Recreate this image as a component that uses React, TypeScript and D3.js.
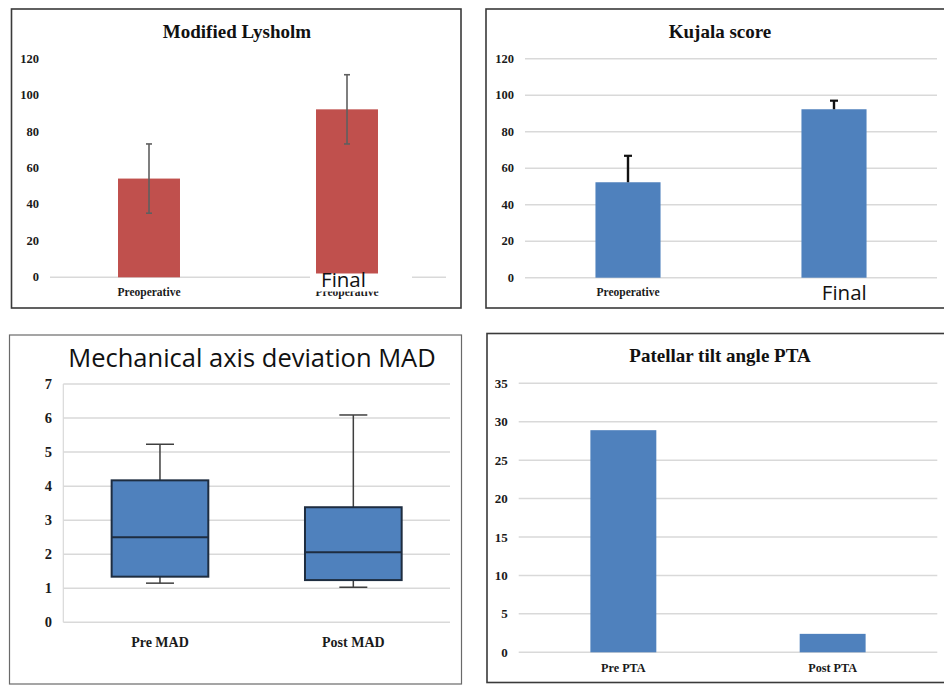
import React from "react";
import * as d3 from "d3";

// ---------- Data ----------
const lysholmTickLabels = ["Preoperative", "Preoperative"];
const lysholmMeans = [54.2, 92.2];
const lysholmSD = [19.0, 19.0];
const lysholmTicks = [0, 20, 40, 60, 80, 100, 120];

const kujalaCategories = ["Preoperative", "Final"];
const kujalaMeans = [52.3, 92.3];
const kujalaSD = [14.5, 4.7];
const kujalaTicks = [0, 20, 40, 60, 80, 100, 120];

const madCategories = ["Pre MAD", "Post MAD"];
const madMin = [1.15, 1.03];
const madQ1 = [1.34, 1.24];
const madMedian = [2.5, 2.06];
const madQ3 = [4.17, 3.38];
const madMax = [5.23, 6.09];
const madTicks = [0, 1, 2, 3, 4, 5, 6, 7];

const ptaCategories = ["Pre PTA", "Post PTA"];
const ptaValues = [28.9, 2.4];
const ptaTicks = [0, 5, 10, 15, 20, 25, 30, 35];

const SERIF = "'Liberation Serif', 'Times New Roman', serif";
const SANS = "'Open Sans', 'Noto Sans', sans-serif";
const RED = "#C0504D";
const BLUE = "#4F81BD";
const GRID = "#D9D9D9";

function band(n: number, x0: number, x1: number, pad: number) {
  return d3
    .scaleBand<number>()
    .domain(d3.range(n))
    .range([x0, x1])
    .paddingInner(pad)
    .paddingOuter(pad / 2);
}

function YLabels({ ticks, y, x, size }: { ticks: number[]; y: d3.ScaleLinear<number, number>; x: number; size: number }) {
  return (
    <g>
      {ticks.map((t) => (
        <text
          key={t}
          x={x}
          y={y(t)}
          textAnchor="end"
          dominantBaseline="central"
          fontFamily={SERIF}
          fontWeight="bold"
          fontSize={size}
          fill="#1a1a1a"
        >
          {t}
        </text>
      ))}
    </g>
  );
}

function Grid({ ticks, y, x0, x1 }: { ticks: number[]; y: d3.ScaleLinear<number, number>; x0: number; x1: number }) {
  return (
    <g>
      {ticks.map((t) => (
        <line key={t} x1={x0} x2={x1} y1={y(t)} y2={y(t)} stroke={GRID} strokeWidth={1.5} />
      ))}
    </g>
  );
}

function Lysholm() {
  const y = d3.scaleLinear().domain([0, 120]).range([277.3, 58.7]);
  const x = band(2, 50, 446, 0.687);
  const bw = x.bandwidth();
  return (
    <g>
      <rect x={11.5} y={9} width={449.5} height={299} fill="white" stroke="#3a3a3a" strokeWidth={1.6} />
      <text x={237} y={37.5} textAnchor="middle" fontFamily={SERIF} fontWeight="bold" fontSize={19} fill="#111">
        Modified Lysholm
      </text>
      <line x1={50} x2={446} y1={y(0)} y2={y(0)} stroke={GRID} strokeWidth={1.5} />
      <YLabels ticks={lysholmTicks} y={y} x={39} size={12.5} />
      {lysholmMeans.map((m, i) => {
        const cx = (x(i) as number) + bw / 2;
        return (
          <g key={i}>
            <rect x={x(i)} y={y(m)} width={bw} height={y(0) - y(m)} fill={RED} />
            <line x1={cx} x2={cx} y1={y(m + lysholmSD[i])} y2={y(m - lysholmSD[i])} stroke="#5f5f5f" strokeWidth={1.6} />
            <line x1={cx - 3} x2={cx + 3} y1={y(m + lysholmSD[i])} y2={y(m + lysholmSD[i])} stroke="#5f5f5f" strokeWidth={1.6} />
            <line x1={cx - 3} x2={cx + 3} y1={y(m - lysholmSD[i])} y2={y(m - lysholmSD[i])} stroke="#5f5f5f" strokeWidth={1.6} />
            <text x={cx} y={295.5} textAnchor="middle" fontFamily={SERIF} fontWeight="bold" fontSize={11.5} fill="#1a1a1a">
              {lysholmTickLabels[i]}
            </text>
          </g>
        );
      })}
      <rect x={310} y={273.5} width={102} height={18} fill="white" />
      <text x={343.5} y={287.3} textAnchor="middle" fontFamily={SANS} fontSize={20.5} fill="#111">
        Final
      </text>
    </g>
  );
}

function Kujala() {
  const y = d3.scaleLinear().domain([0, 120]).range([277.7, 58.7]);
  const x = band(2, 525, 937, 0.684);
  const bw = x.bandwidth();
  return (
    <g>
      <rect x={486} y={9} width={470} height={299} fill="white" stroke="#3a3a3a" strokeWidth={1.6} />
      <text x={720} y={37.5} textAnchor="middle" fontFamily={SERIF} fontWeight="bold" fontSize={19} fill="#111">
        Kujala score
      </text>
      <Grid ticks={kujalaTicks} y={y} x0={525} x1={937} />
      <YLabels ticks={kujalaTicks} y={y} x={514} size={12.5} />
      {kujalaMeans.map((m, i) => {
        const cx = (x(i) as number) + bw / 2;
        const top = y(m + kujalaSD[i]);
        return (
          <g key={i}>
            <rect x={x(i)} y={y(m)} width={bw} height={y(0) - y(m)} fill={BLUE} />
            <line x1={cx} x2={cx} y1={top} y2={y(m)} stroke="#111" strokeWidth={2.4} />
            <line x1={cx - 4} x2={cx + 4} y1={top} y2={top} stroke="#111" strokeWidth={2.2} />
          </g>
        );
      })}
      <text x={(x(0) as number) + bw / 2} y={295.5} textAnchor="middle" fontFamily={SERIF} fontWeight="bold" fontSize={11.5} fill="#1a1a1a">
        {kujalaCategories[0]}
      </text>
      <text x={844.3} y={300} textAnchor="middle" fontFamily={SANS} fontSize={20.5} fill="#111">
        {kujalaCategories[1]}
      </text>
    </g>
  );
}

function MAD() {
  const y = d3.scaleLinear().domain([0, 7]).range([622.3, 384]);
  const x = band(2, 63.3, 450, 0.5);
  const bw = x.bandwidth();
  return (
    <g>
      <rect x={9.5} y={335} width={452} height={349} fill="white" stroke="#6a6a6a" strokeWidth={1.2} />
      <text x={252} y={367} textAnchor="middle" fontFamily={SANS} fontSize={25.5} fill="#111">
        Mechanical axis deviation MAD
      </text>
      <Grid ticks={madTicks} y={y} x0={63.3} x1={450} />
      <line x1={63.3} x2={63.3} y1={y(7)} y2={y(0)} stroke={GRID} strokeWidth={1.2} />
      <YLabels ticks={madTicks} y={y} x={52} size={14.5} />
      {madCategories.map((c, i) => {
        const x0 = x(i) as number;
        const cx = x0 + bw / 2;
        return (
          <g key={c}>
            <line x1={cx} x2={cx} y1={y(madMax[i])} y2={y(madQ3[i])} stroke="#3f3f3f" strokeWidth={1.5} />
            <line x1={cx} x2={cx} y1={y(madQ1[i])} y2={y(madMin[i])} stroke="#3f3f3f" strokeWidth={1.5} />
            <line x1={cx - 14} x2={cx + 14} y1={y(madMax[i])} y2={y(madMax[i])} stroke="#3f3f3f" strokeWidth={1.5} />
            <line x1={cx - 14} x2={cx + 14} y1={y(madMin[i])} y2={y(madMin[i])} stroke="#3f3f3f" strokeWidth={1.5} />
            <rect x={x0} y={y(madQ3[i])} width={bw} height={y(madQ1[i]) - y(madQ3[i])} fill={BLUE} stroke="#1e2d40" strokeWidth={2} />
            <line x1={x0} x2={x0 + bw} y1={y(madMedian[i])} y2={y(madMedian[i])} stroke="#1e2d40" strokeWidth={2} />
            <text x={cx} y={646.7} textAnchor="middle" fontFamily={SERIF} fontWeight="bold" fontSize={14} fill="#1a1a1a">
              {c}
            </text>
          </g>
        );
      })}
    </g>
  );
}

function PTA() {
  const y = d3.scaleLinear().domain([0, 35]).range([652.3, 383.3]);
  const x = band(2, 518.7, 937.3, 0.685);
  const bw = x.bandwidth();
  return (
    <g>
      <rect x={487} y={333.5} width={470} height={349} fill="white" stroke="#3a3a3a" strokeWidth={1.6} />
      <text x={720} y={362.3} textAnchor="middle" fontFamily={SERIF} fontWeight="bold" fontSize={19} fill="#111">
        Patellar tilt angle PTA
      </text>
      <Grid ticks={ptaTicks} y={y} x0={518.7} x1={937.3} />
      <YLabels ticks={ptaTicks} y={y} x={507.7} size={13} />
      {ptaValues.map((v, i) => {
        const cx = (x(i) as number) + bw / 2;
        return (
          <g key={i}>
            <rect x={x(i)} y={y(v)} width={bw} height={y(0) - y(v)} fill={BLUE} />
            <text x={cx} y={672} textAnchor="middle" fontFamily={SERIF} fontWeight="bold" fontSize={12.2} fill="#1a1a1a">
              {ptaCategories[i]}
            </text>
          </g>
        );
      })}
    </g>
  );
}

export default function App() {
  return (
    <svg
      width={944}
      height={698}
      viewBox="0 0 944 698"
      style={{ position: "absolute", left: 0, top: 0, background: "white" }}
    >
      <rect x={0} y={0} width={944} height={698} fill="white" />
      <Lysholm />
      <Kujala />
      <MAD />
      <PTA />
    </svg>
  );
}
